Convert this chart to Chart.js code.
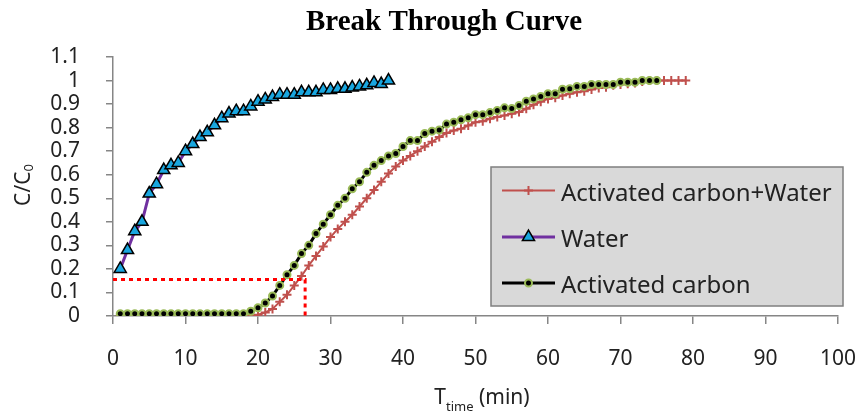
<!DOCTYPE html>
<html>
<head>
<meta charset="utf-8">
<script src="https://cdn.jsdelivr.net/npm/chart.js@4.4.1/dist/chart.umd.min.js"></script>
<style>
  html, body { margin: 0; padding: 0; background: #fff; }
  #wrap { width: 863px; height: 416px; position: relative; }
</style>
</head>
<body>
<div id="wrap"><canvas id="btc"></canvas></div>
<script>
const chartTitle = 'Break Through Curve';
const seriesNames = ['Activated carbon+Water', 'Water', 'Activated carbon'];

// sampling times (min)
const timeMin = [1, 2, 3, 4, 5, 6, 7, 8, 9, 10, 11, 12, 13, 14, 15, 16, 17, 18, 19, 20,
  21, 22, 23, 24, 25, 26, 27, 28, 29, 30, 31, 32, 33, 34, 35, 36, 37, 38, 39, 40,
  41, 42, 43, 44, 45, 46, 47, 48, 49, 50, 51, 52, 53, 54, 55, 56, 57, 58, 59, 60,
  61, 62, 63, 64, 65, 66, 67, 68, 69, 70, 71, 72, 73, 74, 75, 76, 77, 78, 79];

// C/C0 for each series
const waterRatio = [0.20, 0.28, 0.36, 0.40, 0.52, 0.56, 0.62, 0.64, 0.65, 0.70,
  0.73, 0.76, 0.78, 0.81, 0.84, 0.86, 0.87, 0.87, 0.89, 0.91,
  0.92, 0.93, 0.94, 0.94, 0.94, 0.95, 0.95, 0.95, 0.96, 0.96,
  0.965, 0.965, 0.97, 0.975, 0.98, 0.99, 0.985, 1.00];

const carbonRatio = [0.01, 0.01, 0.01, 0.01, 0.01, 0.01, 0.01, 0.01, 0.01, 0.01,
  0.01, 0.01, 0.01, 0.01, 0.01, 0.01, 0.01, 0.01, 0.02, 0.035,
  0.055, 0.085, 0.13, 0.175, 0.215, 0.265, 0.30, 0.35, 0.39, 0.43,
  0.47, 0.50, 0.54, 0.57, 0.61, 0.64, 0.66, 0.68, 0.69, 0.72,
  0.745, 0.745, 0.775, 0.785, 0.79, 0.815, 0.823, 0.833, 0.842, 0.855,
  0.855, 0.864, 0.873, 0.884, 0.881, 0.894, 0.912, 0.922, 0.932, 0.944,
  0.944, 0.963, 0.965, 0.975, 0.975, 0.983, 0.983, 0.983, 0.983, 0.993,
  0.993, 0.993, 1.0, 1.0, 1.0];

const mixRatio = [0, 0, 0, 0, 0, 0, 0, 0, 0, 0,
  0, 0, 0, 0, 0, 0, 0, 0, 0, 0.005,
  0.015, 0.03, 0.06, 0.09, 0.13, 0.17, 0.215, 0.255, 0.295, 0.335,
  0.37, 0.40, 0.43, 0.465, 0.50, 0.535, 0.57, 0.605, 0.635, 0.66,
  0.68, 0.70, 0.72, 0.74, 0.76, 0.777, 0.788, 0.795, 0.809, 0.823,
  0.827, 0.838, 0.845, 0.852, 0.859, 0.866, 0.88, 0.897, 0.91, 0.922,
  0.927, 0.936, 0.944, 0.95, 0.955, 0.962, 0.968, 0.972, 0.98, 0.983,
  0.986, 0.99, 0.996, 1.0, 1.0, 1.0, 1.0, 1.0, 1.0];

// dotted guide to the breakthrough point
const guideX = [0, 26.5, 26.5];
const guideY = [0.155, 0.155, -0.008];

const xTicks = [0, 10, 20, 30, 40, 50, 60, 70, 80, 90, 100];
const yTicks = [0, 0.1, 0.2, 0.3, 0.4, 0.5, 0.6, 0.7, 0.8, 0.9, 1, 1.1];

const toPoints = (xs, ys) => ys.map((y, i) => ({ x: xs[i], y }));

const axisGrey = '#868686';
const textCol = '#222';
const sansFont = '"Noto Sans", "DejaVu Sans", sans-serif';

const styles = {
    mix: { line: '#c0504d', width: 2, point: 'cross', radius: 4.5, fill: '#c0504d', edge: '#c0504d', edgeW: 2 },
    water: { line: '#7030a0', width: 3, point: 'triangle', radius: 7, fill: '#19a6df', edge: '#000', edgeW: 1.5 },
    carbon: { line: '#000', width: 3, point: 'circle', radius: 3.5, fill: '#000', edge: '#9bbb59', edgeW: 2 }
};

function seriesDataset(label, data, s) {
    return {
        label,
        data,
        showLine: true,
        tension: 0,
        borderColor: s.line,
        borderWidth: s.width,
        pointStyle: s.point,
        pointRadius: s.radius,
        pointBackgroundColor: s.fill,
        pointBorderColor: s.edge,
        pointBorderWidth: s.edgeW
    };
}

function drawMarker(ctx, s, x, y) {
    if (Chart.helpers && Chart.helpers.drawPoint) {
        ctx.fillStyle = s.fill;
        ctx.strokeStyle = s.edge;
        ctx.lineWidth = s.edgeW;
        Chart.helpers.drawPoint(ctx, { pointStyle: s.point, radius: s.radius, borderWidth: s.edgeW, rotation: 0 }, x, y);
    }
}

// keep the plot box fixed: no extra room for overhanging labels
function noPad(s) {
    s.paddingLeft = 0;
    s.paddingRight = 0;
    s.paddingTop = 0;
    s.paddingBottom = 0;
}

const decor = {
    id: 'decor',
    afterDraw(chart) {
        const ctx = chart.ctx;
        ctx.save();

        // title
        ctx.fillStyle = '#000';
        ctx.font = 'bold 29px "Liberation Serif", "Times New Roman", serif';
        ctx.textAlign = 'center';
        ctx.textBaseline = 'alphabetic';
        ctx.fillText(chartTitle, 444, 30);

        // x axis title: T_time (min)
        ctx.fillStyle = textCol;
        ctx.textAlign = 'left';
        const big = '21px ' + sansFont, small = '13px ' + sansFont;
        ctx.font = big; const wT = ctx.measureText('T').width; const wM = ctx.measureText(' (min)').width;
        ctx.font = small; const wS = ctx.measureText('time').width;
        let x0 = 482 - (wT + wS + wM) / 2;
        ctx.font = big; ctx.fillText('T', x0, 404);
        ctx.font = small; ctx.fillText('time', x0 + wT, 411);
        ctx.font = big; ctx.fillText(' (min)', x0 + wT + wS, 404);

        // y axis title: C/C0
        ctx.save();
        ctx.translate(30, 185);
        ctx.rotate(-Math.PI / 2);
        ctx.font = big; const wC = ctx.measureText('C/C').width;
        ctx.font = small; const w0 = ctx.measureText('0').width;
        const y0 = -(wC + w0) / 2;
        ctx.font = big; ctx.fillText('C/C', y0, 0);
        ctx.font = small; ctx.fillText('0', y0 + wC, 3);
        ctx.restore();

        // legend box
        ctx.fillStyle = '#d9d9d9';
        ctx.fillRect(491, 167, 352, 139);
        ctx.strokeStyle = '#7f7f7f';
        ctx.lineWidth = 1.5;
        ctx.strokeRect(491, 167, 352, 139);

        const rows = [
            { name: seriesNames[0], s: styles.mix, base: 200.5 },
            { name: seriesNames[1], s: styles.water, base: 247 },
            { name: seriesNames[2], s: styles.carbon, base: 293 }
        ];
        rows.forEach(r => {
            const ly = r.base - 10;
            ctx.beginPath();
            ctx.strokeStyle = r.s.line;
            ctx.lineWidth = r.s.width;
            ctx.moveTo(502, ly);
            ctx.lineTo(555, ly);
            ctx.stroke();
            drawMarker(ctx, r.s, 528.5, ly);
            ctx.fillStyle = textCol;
            ctx.font = '24px ' + sansFont;
            ctx.textAlign = 'left';
            ctx.textBaseline = 'alphabetic';
            ctx.fillText(r.name, 561, r.base);
        });

        ctx.restore();
    }
};

const ctx = document.getElementById('btc').getContext('2d');
new Chart(ctx, {
    type: 'scatter',
    data: {
        datasets: [
            {
                label: 'guide',
                data: toPoints(guideX, guideY),
                showLine: true,
                borderColor: '#ff0000',
                borderWidth: 3,
                borderDash: [4, 4],
                pointRadius: 0,
                clip: false
            },
            seriesDataset(seriesNames[2], toPoints(timeMin, carbonRatio), styles.carbon),
            seriesDataset(seriesNames[1], toPoints(timeMin, waterRatio), styles.water),
            seriesDataset(seriesNames[0], toPoints(timeMin, mixRatio), styles.mix)
        ]
    },
    options: {
        responsive: true,
        maintainAspectRatio: false,
        animation: false,
        events: [],
        layout: { padding: { top: 57, right: 25, left: 0, bottom: 0 } },
        plugins: {
            legend: { display: false },
            title: { display: false },
            tooltip: { enabled: false }
        },
        scales: {
            x: {
                type: 'linear',
                min: 0,
                max: 100,
                afterBuildTicks: s => { s.ticks = xTicks.map(v => ({ value: v })); },
                afterFit: s => { s.height = 100; noPad(s); },
                ticks: {
                    color: textCol,
                    font: { family: sansFont, size: 21 },
                    padding: 22,
                    maxRotation: 0,
                    autoSkip: false
                },
                grid: { drawOnChartArea: false, tickLength: 8, color: axisGrey, lineWidth: 1.5 },
                border: { color: axisGrey, width: 1.5 }
            },
            y: {
                type: 'linear',
                min: 0,
                max: 1.1,
                afterBuildTicks: s => { s.ticks = yTicks.map(v => ({ value: v })); },
                afterFit: s => { s.width = 113; noPad(s); },
                ticks: {
                    color: textCol,
                    font: { family: sansFont, size: 21 },
                    padding: 26,
                    autoSkip: false,
                    callback: v => String(Math.round(v * 10) / 10)
                },
                grid: { drawOnChartArea: false, tickLength: 7, color: axisGrey, lineWidth: 1.5 },
                border: { color: axisGrey, width: 1.5 }
            }
        }
    },
    plugins: [decor]
});
</script>
</body>
</html>
